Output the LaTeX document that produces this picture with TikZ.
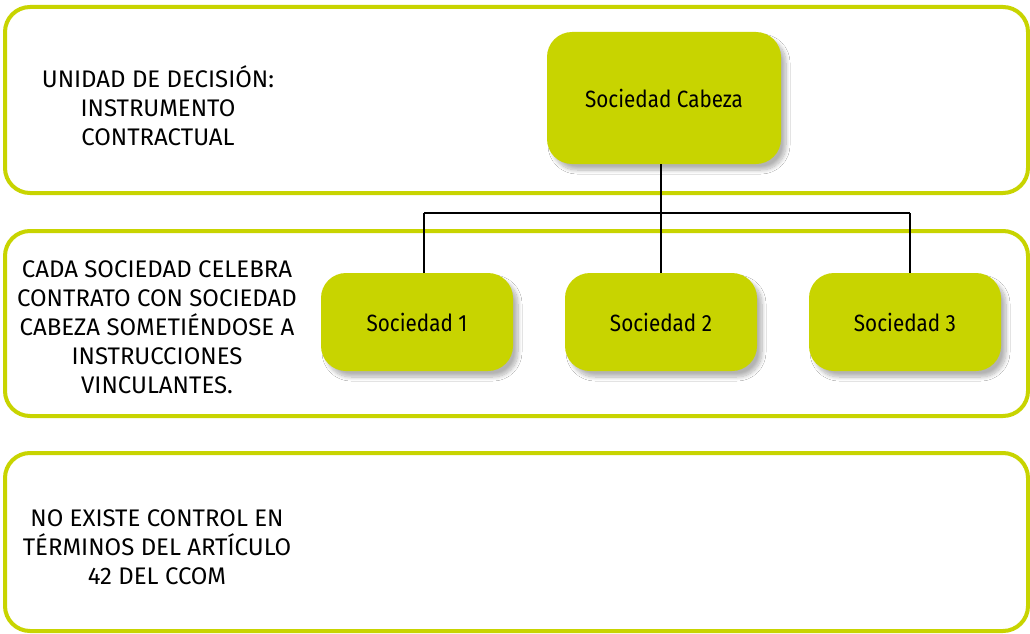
\documentclass[tikz,border=0pt]{standalone}
\usepackage{fontspec}
\setmainfont{Fira Sans}
\newfontfamily\boxfont{Fira Sans}[FakeStretch=0.88]
\usetikzlibrary{shadows.blur}
\definecolor{lime}{RGB}{200,212,0}
\tikzset{
  x=1pt, y=-1pt,
  panel/.style={draw=lime, line width=4pt, rounded corners=25pt},
  company/.style={fill=lime, rounded corners=25pt, inner sep=0pt,
    font=\boxfont\fontsize{23.5}{28}\selectfont,
    blur shadow={shadow xshift=5pt, shadow yshift=-6pt, shadow blur steps=10, shadow blur radius=4pt, shadow opacity=30}},
  caption/.style={align=center, inner sep=0pt, font=\fontsize{24}{29}\selectfont},
  link/.style={line width=2pt, black}
}
\begin{document}
\begin{tikzpicture}
\useasboundingbox (0,0) rectangle (1030,634);
\fill[white] (0,0) rectangle (1030,634);

% horizontal bands
\draw[panel] (5,7) rectangle (1028,193);
\draw[panel] (5,231) rectangle (1028,416);
\draw[panel] (5,453) rectangle (1028,631);

% band captions
\node[caption] (cap1) at (158,106) {UNIDAD DE DECISIÓN:\\INSTRUMENTO\\CONTRACTUAL};
\node[caption] (cap2) at (157,327) {CADA SOCIEDAD CELEBRA\\CONTRATO CON SOCIEDAD\\CABEZA SOMETIÉNDOSE A\\INSTRUCCIONES\\VINCULANTES.};
\node[caption] (cap3) at (157,547) {NO EXISTE CONTROL EN\\TÉRMINOS DEL ARTÍCULO\\42 DEL CCOM};

% companies
\node[company, minimum width=234pt, minimum height=132pt] (head) at (664,98) {Sociedad Cabeza};
\node[company, minimum width=192pt, minimum height=98pt] (s1) at (417,322) {Sociedad 1};
\node[company, minimum width=192pt, minimum height=98pt] (s2) at (661,322) {Sociedad 2};
\node[company, minimum width=192pt, minimum height=98pt] (s3) at (905,322) {Sociedad 3};

% tree connectors
\coordinate (bus) at (661,213);
\draw[link] (head.south -| bus) -- (bus);
\draw[link] (424,213) -- (910,213);
\draw[link] (bus) -- (s2.north);
\draw[link] (424,213) -- (424,273);
\draw[link] (910,213) -- (910,273);
\end{tikzpicture}
\end{document}
